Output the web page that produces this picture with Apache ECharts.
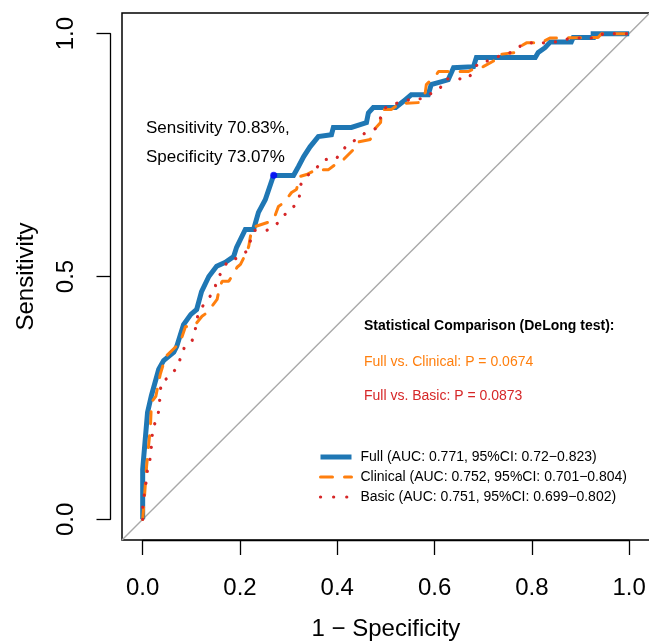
<!DOCTYPE html>
<html>
<head>
<meta charset="utf-8">
<script src="https://cdn.jsdelivr.net/npm/echarts@6/dist/echarts.min.js"></script>
<style>
html,body{margin:0;padding:0;background:#fff;}
#chart{width:649px;height:641px;}
</style>
</head>
<body>
<div id="chart"></div>
<script>
// ---- data (1 - specificity, sensitivity) ----
var fullFpr = [0,0,0.010,0.018,0.033,0.043,0.064,0.070,0.084,0.099,0.111,0.121,0.136,0.152,0.170,0.187,0.193,0.197,0.211,0.228,0.238,0.252,0.269,0.310,0.320,0.331,0.344,0.361,0.388,0.392,0.429,0.460,0.464,0.474,0.520,0.540,0.552,0.587,0.593,0.628,0.639,0.680,0.686,0.807,0.813,0.827,0.838,0.881,0.885,0.926,0.926,1];
var fullTpr = [0,0.103,0.220,0.255,0.309,0.327,0.344,0.356,0.401,0.422,0.432,0.469,0.500,0.521,0.529,0.541,0.560,0.562,0.597,0.597,0.632,0.658,0.708,0.708,0.726,0.747,0.767,0.788,0.792,0.807,0.807,0.817,0.837,0.848,0.848,0.864,0.874,0.874,0.895,0.905,0.930,0.932,0.951,0.951,0.961,0.971,0.983,0.983,0.992,0.992,1,1];

var clinFpr = [0,0.004,0.008,0.016,0.018,0.027,0.036,0.047,0.077,0.088,0.105,0.122,0.133,0.153,0.156,0.163,0.177,0.194,0.201,0.214,0.218,0.224,0.232,0.262,0.269,0.279,0.290,0.306,0.316,0.324,0.337,0.357,0.382,0.402,0.413,0.433,0.439,0.468,0.470,0.489,0.491,0.511,0.520,0.526,0.567,0.581,0.583,0.604,0.608,0.669,0.690,0.700,0.727,0.731,0.766,0.772,0.789,0.819,0.837,0.936,0.943,1];
var clinTpr = [0,0.051,0.109,0.191,0.241,0.253,0.298,0.335,0.364,0.397,0.397,0.418,0.426,0.453,0.467,0.490,0.490,0.519,0.525,0.551,0.562,0.597,0.603,0.613,0.617,0.644,0.652,0.673,0.679,0.706,0.710,0.720,0.720,0.735,0.741,0.761,0.776,0.782,0.796,0.817,0.844,0.844,0.850,0.856,0.858,0.879,0.895,0.916,0.922,0.922,0.932,0.932,0.947,0.957,0.961,0.971,0.981,0.981,0.991,0.992,1,1];

var basicFpr = [0,0,0.006,0.009,0.014,0.017,0.019,0.021,0.031,0.034,0.036,0.038,0.055,0.070,0.079,0.086,0.101,0.108,0.111,0.121,0.136,0.148,0.154,0.164,0.175,0.196,0.214,0.222,0.230,0.255,0.272,0.287,0.298,0.315,0.322,0.324,0.339,0.356,0.373,0.397,0.409,0.423,0.441,0.459,0.478,0.488,0.495,0.512,0.536,0.552,0.577,0.593,0.611,0.622,0.669,0.680,0.690,0.710,0.731,0.754,0.770,0.789,0.840,0.882,0.931,0.947,1];
var basicTpr = [0,0.031,0.068,0.097,0.117,0.138,0.165,0.189,0.210,0.233,0.259,0.283,0.293,0.312,0.335,0.355,0.366,0.389,0.413,0.436,0.455,0.475,0.497,0.511,0.533,0.538,0.552,0.575,0.595,0.595,0.605,0.619,0.636,0.647,0.664,0.688,0.708,0.722,0.741,0.741,0.758,0.773,0.783,0.797,0.804,0.824,0.845,0.855,0.859,0.866,0.866,0.877,0.887,0.907,0.907,0.924,0.940,0.944,0.953,0.960,0.971,0.981,0.981,0.991,0.991,1,1];

var cutoffPoint = [0.2693, 0.7083]; // 1 - specificity 73.07%, sensitivity 70.83%
var diagEnds = [-0.0425, 1.0425];

var xTicks = [0, 0.2, 0.4, 0.6, 0.8, 1.0];
var yTicks = [0, 0.5, 1.0];

var seriesNames = [
  'Full (AUC: 0.771, 95%CI: 0.72\u22120.823)',
  'Clinical (AUC: 0.752, 95%CI: 0.701\u22120.804)',
  'Basic (AUC: 0.751, 95%CI: 0.699\u22120.802)'
];
var annotationLines = ['Sensitivity 70.83%,', 'Specificity 73.07%'];
var statTitle = 'Statistical Comparison (DeLong test):';
var statLines = ['Full vs. Clinical: P = 0.0674', 'Full vs. Basic: P = 0.0873'];

// ---- build ----
function zip(a, b) { return a.map(function (v, i) { return [v, b[i]]; }); }

var FONT = '"Liberation Sans", Arial, Helvetica, sans-serif';
var BLUE = '#1F77B4', ORANGE = '#FF7F0E', RED = '#D62728';

// frame grid geometry
var gL = 122, gT = 13, span = 1.085;
var ux = 486.5, uy = 485.7;
var gW = ux * span, gH = uy * span;
var aL = gL + 0.0425 * ux, aT = gT + 0.0425 * uy;
var yAxisX = 110.5;

var chart = echarts.init(document.getElementById('chart'), null, {renderer: 'canvas'});

var option = {
  backgroundColor: '#ffffff',
  animation: false,
  grid: [
    {left: gL, top: gT, width: gW, height: gH, show: true, borderColor: '#000', borderWidth: 1.5, backgroundColor: 'transparent', outerBoundsMode: 'none', containLabel: false},
    {left: aL, top: aT, width: ux, height: gT + gH - aT, outerBoundsMode: 'none', containLabel: false},
    {left: yAxisX, top: aT, width: 20, height: uy, outerBoundsMode: 'none', containLabel: false}
  ],
  xAxis: [
    {gridIndex: 0, type: 'value', min: diagEnds[0], max: diagEnds[1], show: false},
    {gridIndex: 1, type: 'value', min: 0, max: 1, interval: 0.2, position: 'bottom',
      axisLine: {show: true, lineStyle: {color: '#000', width: 1.3}},
      axisTick: {show: true, inside: false, length: 15, lineStyle: {color: '#000', width: 1.3}},
      axisLabel: {show: true, margin: 36, fontSize: 24, color: '#000', fontFamily: FONT,
        formatter: function (v) { return v.toFixed(1); }},
      splitLine: {show: false},
      name: '1 \u2212 Specificity', nameLocation: 'middle', nameGap: 77,
      nameTextStyle: {fontSize: 24, color: '#000', fontFamily: FONT}
    },
    {gridIndex: 2, type: 'value', min: 0, max: 1, show: false}
  ],
  yAxis: [
    {gridIndex: 0, type: 'value', min: diagEnds[0], max: diagEnds[1], show: false},
    {gridIndex: 1, type: 'value', min: 0, max: 1, show: false},
    {gridIndex: 2, type: 'value', min: 0, max: 1, interval: 0.5, position: 'left',
      axisLine: {show: true, lineStyle: {color: '#000', width: 1.3}},
      axisTick: {show: true, inside: false, length: 14, lineStyle: {color: '#000', width: 1.3}},
      axisLabel: {show: true, margin: 32, fontSize: 24, rotate: 90, color: '#000', fontFamily: FONT,
        formatter: function (v) { return v.toFixed(1); }},
      splitLine: {show: false},
      name: 'Sensitivity', nameLocation: 'middle', nameGap: 72, nameRotate: 90,
      nameTextStyle: {fontSize: 24, color: '#000', fontFamily: FONT}
    }
  ],
  legend: {
    orient: 'vertical', left: 313, top: 445, itemWidth: 31, itemHeight: 14, itemGap: 6,
    textStyle: {fontSize: 14, color: '#000', fontFamily: FONT, padding: [0, 0, 0, 4]},
    data: [
      {name: seriesNames[0], itemStyle: {opacity: 0}, lineStyle: {width: 5, color: BLUE, type: 'solid', cap: 'butt'}},
      {name: seriesNames[1], itemStyle: {opacity: 0}, lineStyle: {width: 3, color: ORANGE, type: [12, 12], cap: 'round'}},
      {name: seriesNames[2], itemStyle: {opacity: 0}, lineStyle: {width: 3.2, color: RED, type: [0.1, 13], cap: 'round'}}
    ]
  },
  series: [
    {type: 'line', xAxisIndex: 0, yAxisIndex: 0, data: [[diagEnds[0], diagEnds[0]], [diagEnds[1], diagEnds[1]]],
      symbol: 'none', silent: true, lineStyle: {color: '#A9A9A9', width: 1.4}, z: 1},
    {type: 'line', name: seriesNames[0], xAxisIndex: 0, yAxisIndex: 0, data: zip(fullFpr, fullTpr),
      symbol: 'none', lineStyle: {color: BLUE, width: 5, cap: 'butt', join: 'miter'}, itemStyle: {color: BLUE}, z: 2},
    {type: 'line', name: seriesNames[1], xAxisIndex: 0, yAxisIndex: 0, data: zip(clinFpr, clinTpr),
      symbol: 'none', lineStyle: {color: ORANGE, width: 3, type: [12, 12], cap: 'round'}, itemStyle: {color: ORANGE}, z: 3},
    {type: 'line', name: seriesNames[2], xAxisIndex: 0, yAxisIndex: 0, data: zip(basicFpr, basicTpr),
      symbol: 'none', lineStyle: {color: RED, width: 3.2, type: [0.1, 12], cap: 'round'}, itemStyle: {color: RED}, z: 4},
    {type: 'scatter', xAxisIndex: 0, yAxisIndex: 0, data: [cutoffPoint], symbolSize: 7,
      itemStyle: {color: '#0000FF'}, z: 5, silent: true}
  ],
  graphic: [
    {type: 'text', left: 146, top: 129 - 9, style: {text: annotationLines[0], font: '17px ' + FONT, fill: '#000'}},
    {type: 'text', left: 146, top: 158 - 9, style: {text: annotationLines[1], font: '17px ' + FONT, fill: '#000'}},
    {type: 'text', left: 364, top: 326 - 7, style: {text: statTitle, font: 'bold 14px ' + FONT, fill: '#000'}},
    {type: 'text', left: 364, top: 362 - 7, style: {text: statLines[0], font: '14px ' + FONT, fill: ORANGE}},
    {type: 'text', left: 364, top: 396 - 7, style: {text: statLines[1], font: '14px ' + FONT, fill: RED}}
  ]
};
chart.setOption(option);
</script>
</body>
</html>
